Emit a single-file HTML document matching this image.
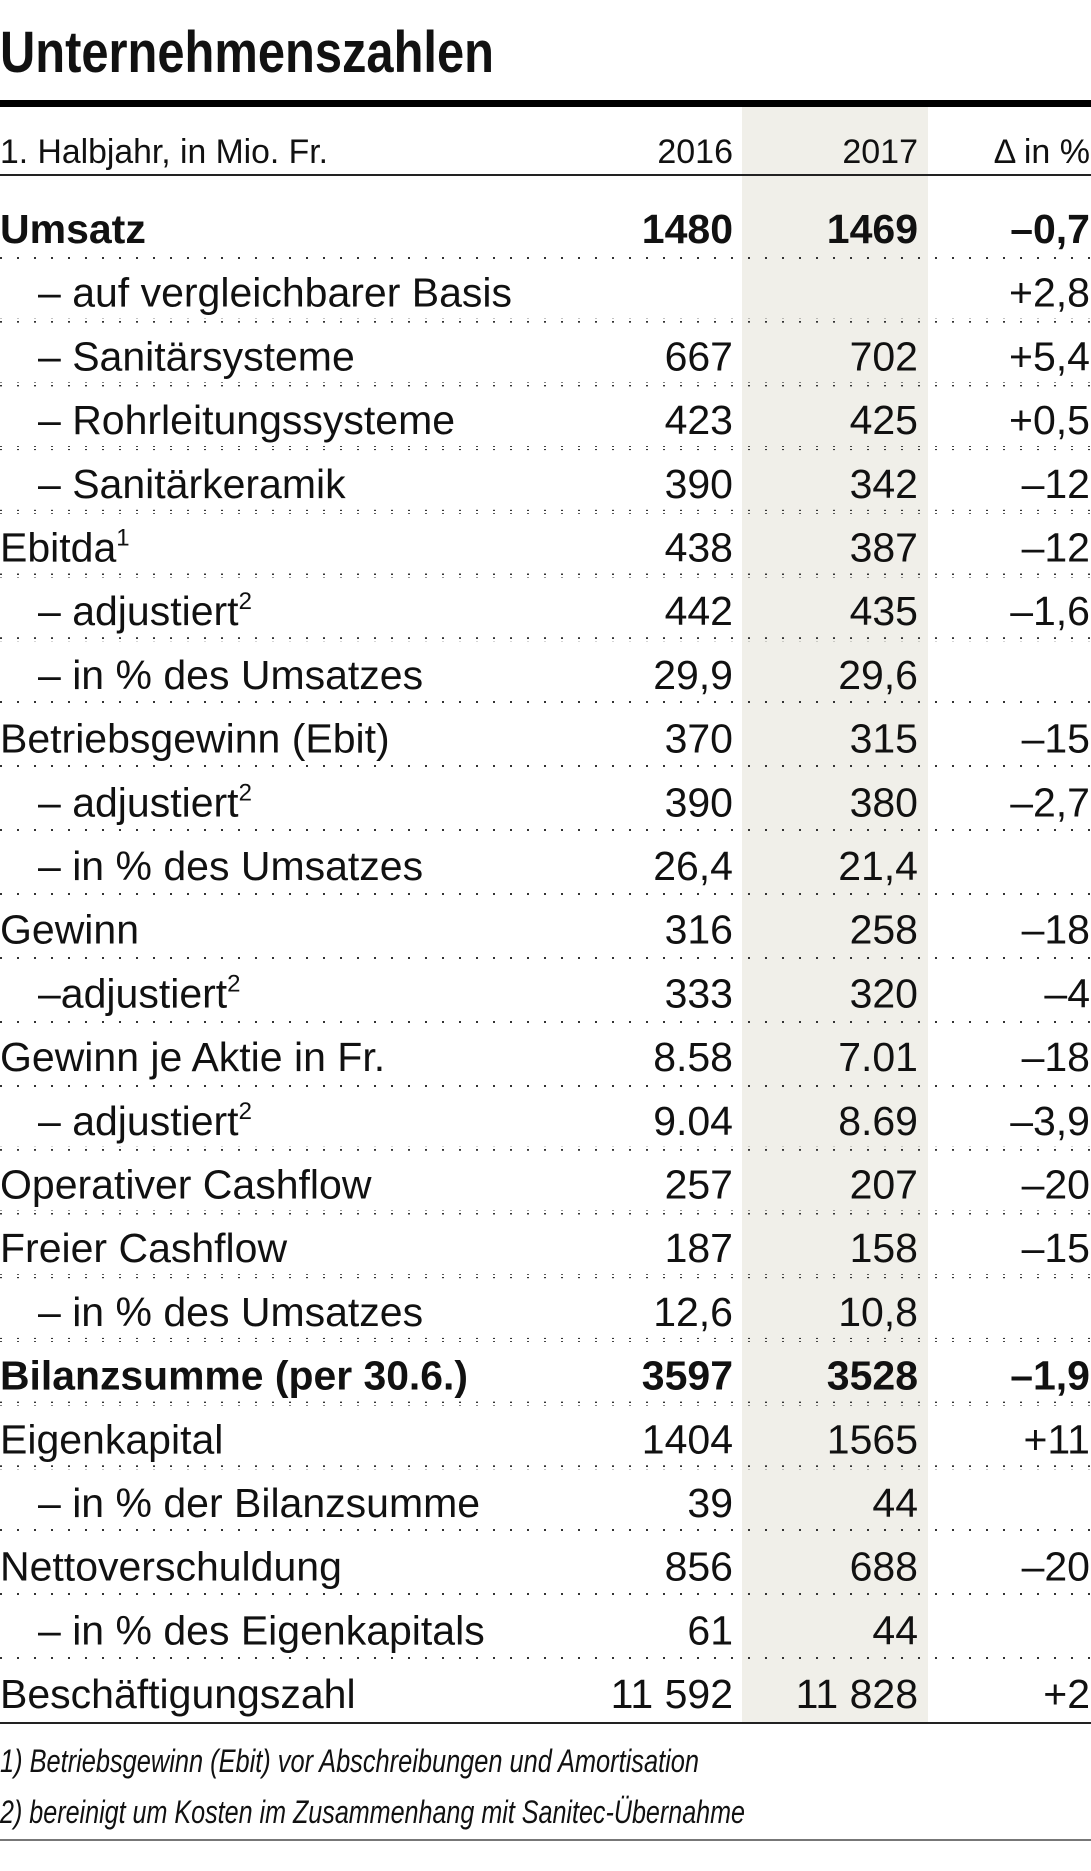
<!DOCTYPE html>
<html><head><meta charset="utf-8"><style>
html,body{margin:0;padding:0;background:#fff;}
svg{display:block;}
text{font-family:"Liberation Sans",sans-serif;fill:#111;}
</style></head><body>
<svg width="1091" height="1871" viewBox="0 0 1091 1871" xmlns="http://www.w3.org/2000/svg">
<defs>
<pattern id="dots" x="0" y="0" width="17" height="4" patternUnits="userSpaceOnUse">
<rect x="0" y="1" width="2" height="2" fill="#333"/>
</pattern>
</defs>
<rect x="742" y="107" width="186" height="1616" fill="#f0efe9"/>
<text x="0" y="72" font-size="58" font-weight="bold" textLength="494" lengthAdjust="spacingAndGlyphs">Unternehmenszahlen</text>
<rect x="0" y="100" width="1091" height="7" fill="#000"/>
<g font-size="34">
<text x="0" y="163" textLength="328" lengthAdjust="spacingAndGlyphs">1. Halbjahr, in Mio. Fr.</text>
<text x="733" y="163" text-anchor="end">2016</text>
<text x="918" y="163" text-anchor="end">2017</text>
<text x="1090" y="163" text-anchor="end">Δ in %</text>
</g>
<rect x="0" y="174" width="1091" height="2" fill="#222"/>
<g font-size="41" id="rows">
<text x="0" y="243" font-weight="bold">Umsatz</text><text x="733" y="243" text-anchor="end" font-weight="bold">1480</text><text x="918" y="243" text-anchor="end" font-weight="bold">1469</text><text x="1090" y="243" text-anchor="end" font-weight="bold">–0,7</text>
<text x="38" y="306.7">– auf vergleichbarer Basis</text><text x="1090" y="306.7" text-anchor="end">+2,8</text>
<text x="38" y="370.4">– Sanitärsysteme</text><text x="733" y="370.4" text-anchor="end">667</text><text x="918" y="370.4" text-anchor="end">702</text><text x="1090" y="370.4" text-anchor="end">+5,4</text>
<text x="38" y="434.1">– Rohrleitungssysteme</text><text x="733" y="434.1" text-anchor="end">423</text><text x="918" y="434.1" text-anchor="end">425</text><text x="1090" y="434.1" text-anchor="end">+0,5</text>
<text x="38" y="497.8">– Sanitärkeramik</text><text x="733" y="497.8" text-anchor="end">390</text><text x="918" y="497.8" text-anchor="end">342</text><text x="1090" y="497.8" text-anchor="end">–12</text>
<text x="0" y="561.5">Ebitda<tspan font-size="24" dy="-16">1</tspan></text><text x="733" y="561.5" text-anchor="end">438</text><text x="918" y="561.5" text-anchor="end">387</text><text x="1090" y="561.5" text-anchor="end">–12</text>
<text x="38" y="625.2">– adjustiert<tspan font-size="24" dy="-16">2</tspan></text><text x="733" y="625.2" text-anchor="end">442</text><text x="918" y="625.2" text-anchor="end">435</text><text x="1090" y="625.2" text-anchor="end">–1,6</text>
<text x="38" y="688.9">– in % des Umsatzes</text><text x="733" y="688.9" text-anchor="end">29,9</text><text x="918" y="688.9" text-anchor="end">29,6</text>
<text x="0" y="752.6">Betriebsgewinn (Ebit)</text><text x="733" y="752.6" text-anchor="end">370</text><text x="918" y="752.6" text-anchor="end">315</text><text x="1090" y="752.6" text-anchor="end">–15</text>
<text x="38" y="816.3">– adjustiert<tspan font-size="24" dy="-16">2</tspan></text><text x="733" y="816.3" text-anchor="end">390</text><text x="918" y="816.3" text-anchor="end">380</text><text x="1090" y="816.3" text-anchor="end">–2,7</text>
<text x="38" y="880">– in % des Umsatzes</text><text x="733" y="880" text-anchor="end">26,4</text><text x="918" y="880" text-anchor="end">21,4</text>
<text x="0" y="943.7">Gewinn</text><text x="733" y="943.7" text-anchor="end">316</text><text x="918" y="943.7" text-anchor="end">258</text><text x="1090" y="943.7" text-anchor="end">–18</text>
<text x="38" y="1007.4">–adjustiert<tspan font-size="24" dy="-16">2</tspan></text><text x="733" y="1007.4" text-anchor="end">333</text><text x="918" y="1007.4" text-anchor="end">320</text><text x="1090" y="1007.4" text-anchor="end">–4</text>
<text x="0" y="1071.1">Gewinn je Aktie in Fr.</text><text x="733" y="1071.1" text-anchor="end">8.58</text><text x="918" y="1071.1" text-anchor="end">7.01</text><text x="1090" y="1071.1" text-anchor="end">–18</text>
<text x="38" y="1134.8">– adjustiert<tspan font-size="24" dy="-16">2</tspan></text><text x="733" y="1134.8" text-anchor="end">9.04</text><text x="918" y="1134.8" text-anchor="end">8.69</text><text x="1090" y="1134.8" text-anchor="end">–3,9</text>
<text x="0" y="1198.5">Operativer Cashflow</text><text x="733" y="1198.5" text-anchor="end">257</text><text x="918" y="1198.5" text-anchor="end">207</text><text x="1090" y="1198.5" text-anchor="end">–20</text>
<text x="0" y="1262.2">Freier Cashflow</text><text x="733" y="1262.2" text-anchor="end">187</text><text x="918" y="1262.2" text-anchor="end">158</text><text x="1090" y="1262.2" text-anchor="end">–15</text>
<text x="38" y="1325.9">– in % des Umsatzes</text><text x="733" y="1325.9" text-anchor="end">12,6</text><text x="918" y="1325.9" text-anchor="end">10,8</text>
<text x="0" y="1389.6" font-weight="bold" textLength="468" lengthAdjust="spacingAndGlyphs">Bilanzsumme (per 30.6.)</text><text x="733" y="1389.6" text-anchor="end" font-weight="bold">3597</text><text x="918" y="1389.6" text-anchor="end" font-weight="bold">3528</text><text x="1090" y="1389.6" text-anchor="end" font-weight="bold">–1,9</text>
<text x="0" y="1453.3">Eigenkapital</text><text x="733" y="1453.3" text-anchor="end">1404</text><text x="918" y="1453.3" text-anchor="end">1565</text><text x="1090" y="1453.3" text-anchor="end">+11</text>
<text x="38" y="1517">– in % der Bilanzsumme</text><text x="733" y="1517" text-anchor="end">39</text><text x="918" y="1517" text-anchor="end">44</text>
<text x="0" y="1580.7">Nettoverschuldung</text><text x="733" y="1580.7" text-anchor="end">856</text><text x="918" y="1580.7" text-anchor="end">688</text><text x="1090" y="1580.7" text-anchor="end">–20</text>
<text x="38" y="1644.4">– in % des Eigenkapitals</text><text x="733" y="1644.4" text-anchor="end">61</text><text x="918" y="1644.4" text-anchor="end">44</text>
<text x="0" y="1708">Beschäftigungszahl</text><text x="733" y="1708" text-anchor="end">11 592</text><text x="918" y="1708" text-anchor="end">11 828</text><text x="1090" y="1708" text-anchor="end">+2</text>
</g>
<g fill="url(#dots)">
<rect x="0" y="255" width="1091" height="4"/>
<rect x="0" y="318.7" width="1091" height="4"/>
<rect x="0" y="382.4" width="1091" height="4"/>
<rect x="0" y="446.1" width="1091" height="4"/>
<rect x="0" y="509.8" width="1091" height="4"/>
<rect x="0" y="573.5" width="1091" height="4"/>
<rect x="0" y="637.2" width="1091" height="4"/>
<rect x="0" y="700.9" width="1091" height="4"/>
<rect x="0" y="764.6" width="1091" height="4"/>
<rect x="0" y="828.3" width="1091" height="4"/>
<rect x="0" y="892" width="1091" height="4"/>
<rect x="0" y="955.7" width="1091" height="4"/>
<rect x="0" y="1019.4" width="1091" height="4"/>
<rect x="0" y="1083.1" width="1091" height="4"/>
<rect x="0" y="1146.8" width="1091" height="4"/>
<rect x="0" y="1210.5" width="1091" height="4"/>
<rect x="0" y="1274.2" width="1091" height="4"/>
<rect x="0" y="1337.9" width="1091" height="4"/>
<rect x="0" y="1401.6" width="1091" height="4"/>
<rect x="0" y="1465.3" width="1091" height="4"/>
<rect x="0" y="1529" width="1091" height="4"/>
<rect x="0" y="1592.7" width="1091" height="4"/>
<rect x="0" y="1656.4" width="1091" height="4"/>
</g>
<rect x="0" y="1722" width="1091" height="2" fill="#222"/>
<g font-size="32" font-style="italic">
<text x="0" y="1772" textLength="699" lengthAdjust="spacingAndGlyphs">1) Betriebsgewinn (Ebit) vor Abschreibungen und Amortisation</text>
<text x="0" y="1823" textLength="745" lengthAdjust="spacingAndGlyphs">2) bereinigt um Kosten im Zusammenhang mit Sanitec-Übernahme</text>
</g>
<rect x="0" y="1839" width="1091" height="2" fill="#777"/>
</svg>
</body></html>
